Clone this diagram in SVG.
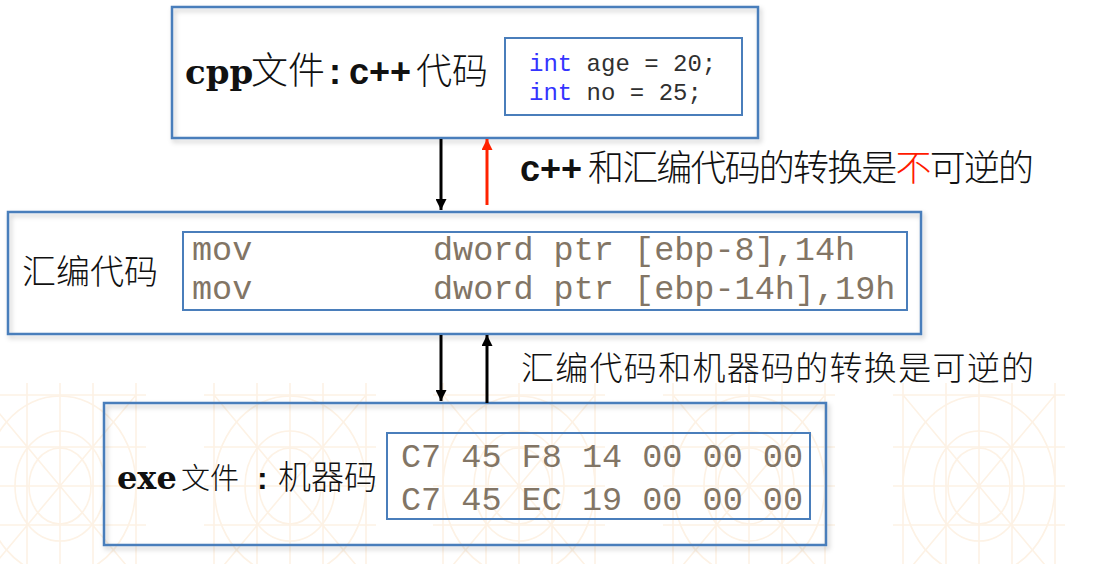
<svg xmlns="http://www.w3.org/2000/svg" width="1096" height="564" viewBox="0 0 1096 564">
<style>
.box{fill:none;stroke:#4a7ebb;stroke-width:2.5;filter:url(#sh)}
.inner{fill:none;stroke:#4a7ebb;stroke-width:2}
.cjk{font-family:"Noto Sans CJK SC","Noto Sans",sans-serif;font-weight:300;fill:#111}
.sansb{font-family:"Liberation Sans",Arial,sans-serif;font-weight:bold;fill:#111}
.serifb{font-family:"DejaVu Serif",serif;font-weight:bold;fill:#111}
.mono{font-family:"Liberation Mono","Courier New",monospace}
.asm{fill:#827565;font-size:33.5px}
.src{fill:#303030;font-size:24px}
.kw{fill:#3434ff}
.pat{fill:none;stroke:#fdf2e5;stroke-width:1.6}
.conn{stroke:#000;stroke-width:3;fill:none}
</style>
<defs>
<filter id="sh" x="-5%" y="-10%" width="112%" height="125%">
<feDropShadow dx="2" dy="3" stdDeviation="2.5" flood-color="#000" flood-opacity="0.22"/>
</filter>
<marker id="ah" viewBox="0 0 10 10" refX="10" refY="5" markerWidth="11" markerHeight="11" markerUnits="userSpaceOnUse" orient="auto">
<path d="M0,0 L10,5 L0,10 z" fill="#000"/>
</marker>
<marker id="ahr" viewBox="0 0 10 10" refX="10" refY="5" markerWidth="11" markerHeight="11" markerUnits="userSpaceOnUse" orient="auto">
<path d="M0,0 L10,5 L0,10 z" fill="#ff2200"/>
</marker>
<clipPath id="pclip"><rect x="0" y="383" width="1096" height="181"/></clipPath>
<g id="tile" class="pat">
<path d="M-76,-103V90M-33,-103V90M0,-103V90M33,-103V90M76,-103V90M-86,-91H86M-86,-39H86M-86,0H86M-86,39H86M-76,-91L76,91M76,-91L-76,91"/>
<ellipse cx="0" cy="0" rx="76" ry="90"/>
<ellipse cx="0" cy="0" rx="45" ry="55"/>
<ellipse cx="0" cy="0" rx="31" ry="38"/>
</g>
</defs>
<rect width="1096" height="564" fill="#fff"/>
<g id="background" clip-path="url(#pclip)">
<use href="#tile" x="60" y="486"/>
<use href="#tile" x="290" y="486"/>
<use href="#tile" x="519" y="486"/>
<use href="#tile" x="749" y="486"/>
<use href="#tile" x="979" y="486"/>
</g>

<g id="node-cpp">
<rect class="box" x="172" y="7" width="586" height="131"/>
<text y="84" font-size="36">
<tspan class="serifb" x="185" font-size="34">cpp</tspan><tspan class="cjk" x="251" font-size="37">文件</tspan><tspan class="sansb" x="329">:</tspan><tspan class="sansb" x="349">c++</tspan><tspan class="cjk" x="416">代码</tspan>
</text>
<rect class="inner" x="505" y="38" width="237" height="77"/>
<text class="mono src" x="529" y="71"><tspan class="kw">int</tspan> age = 20;</text>
<text class="mono src" x="529" y="100"><tspan class="kw">int</tspan> no = 25;</text>
</g>

<g id="node-asm">
<rect class="box" x="8" y="212" width="913" height="122"/>
<text class="cjk" x="22" y="284" font-size="34">汇编代码</text>
<rect class="inner" x="183" y="232" width="724" height="78"/>
<text class="mono asm" y="260"><tspan x="192">mov</tspan><tspan x="433">dword ptr [ebp-8],14h</tspan></text>
<text class="mono asm" y="299"><tspan x="192">mov</tspan><tspan x="433">dword ptr [ebp-14h],19h</tspan></text>
</g>

<g id="node-exe">
<rect class="box" x="104" y="403" width="722" height="142"/>
<text y="489" font-size="32">
<tspan class="serifb" x="117" font-size="32">exe</tspan><tspan class="cjk" x="181" font-size="29">文件</tspan><tspan class="sansb" x="257">:</tspan><tspan class="cjk" x="278" font-size="33">机器码</tspan>
</text>
<rect class="inner" x="387" y="433" width="423" height="86"/>
<text class="mono asm" x="401" y="467">C7 45 F8 14 00 00 00</text>
<text class="mono asm" x="401" y="510">C7 45 EC 19 00 00 00</text>
</g>

<g id="connectors">
<path class="conn" d="M441,139V210" marker-end="url(#ah)"/>
<path class="conn" d="M487,205V139" style="stroke:#ff2200" marker-end="url(#ahr)"/>
<path class="conn" d="M441,335V401" marker-end="url(#ah)"/>
<path class="conn" d="M487,403V335" marker-end="url(#ah)"/>
<text class="sansb" x="520" y="181" font-size="36">c++</text>
<text class="cjk" x="588" y="181" font-size="36" textLength="446" lengthAdjust="spacing">和汇编代码的转换是<tspan style="fill:#ff1a00">不</tspan>可逆的</text>
<text class="cjk" x="521" y="380" font-size="33" textLength="513" lengthAdjust="spacing">汇编代码和机器码的转换是可逆的</text>
</g>
</svg>
